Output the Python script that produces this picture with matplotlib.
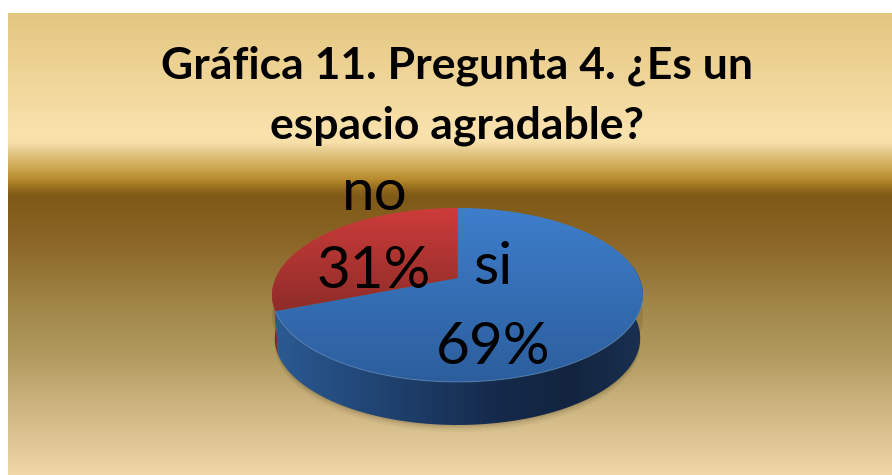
import numpy as np
import matplotlib
matplotlib.use('Agg')
from matplotlib import pyplot as plt
from matplotlib.patches import Polygon
from matplotlib.colors import LinearSegmentedColormap, to_rgb

title = 'Gráfica 11. Pregunta 4. ¿Es un\nespacio agradable?'
categories = ['si', 'no']
shares = [69, 31]

plt.rcParams['font.family'] = ['Lato', 'DejaVu Sans']

# pie geometry in pixels of the picture
apex_x, apex_y = 457.5, 278
scale_x, scale_y, persp = 181.9, 83.7, 0.195
depth = 43

# background bands, top to bottom
bg_rows = [13, 135, 142, 150, 165, 180, 190, 197, 240, 300, 355, 415, 475]
bg_cols = ['#e3c680', '#fae2ad', '#f8e0aa', '#e6cc8f', '#d2ae5a', '#b5892a',
           '#8e651c', '#7f5917', '#8a6526', '#9f8445', '#b19a5e', '#d0b985', '#efd8a6']


def project(theta):
    # flat circle to the tilted ellipse
    t = np.radians(theta)
    u = np.cos(t)
    v = np.sin(t)
    d = 1 + persp * v
    return apex_x + scale_x * u / d, apex_y - scale_y * v / d


def slice_points(t1, t2):
    th = np.linspace(t1, t2, 200)
    x, y = project(th)
    return np.vstack([[apex_x, apex_y], np.column_stack([x, y])])


def wall_points(t1, t2):
    th = np.linspace(t1, t2, 200)
    x, y = project(th)
    xb = apex_x + (x - apex_x) * 0.985
    yb = y + depth
    return np.vstack([np.column_stack([x, y]), np.column_stack([xb, yb])[::-1]])


def shaded(ax, pts, cols, horizontal=False):
    # gradient image clipped to a polygon
    poly = Polygon(pts, closed=True, transform=ax.transData, facecolor='none', edgecolor='none')
    ax.add_patch(poly)
    cmap = LinearSegmentedColormap.from_list('c', cols)
    g = np.linspace(0, 1, 256)
    g = g.reshape(1, -1) if horizontal else g.reshape(-1, 1)
    x0, y0 = pts.min(axis=0)
    x1, y1 = pts.max(axis=0)
    im = ax.imshow(g, cmap=cmap, extent=(x0, x1, y1, y0), aspect='auto', interpolation='bilinear', zorder=3)
    im.set_clip_path(poly)


fig = plt.figure(figsize=(8.92, 4.75), dpi=100)
ax = fig.add_axes([0, 0, 1, 1])

# background
rows = np.arange(13, 476)
rgb = np.array([to_rgb(c) for c in bg_cols])
grad = np.stack([np.interp(rows, bg_rows, rgb[:, i]) for i in range(3)], axis=1)
ax.imshow(grad[:, None, :], extent=(8, 892, 475, 13), aspect='auto', interpolation='bilinear')

# soft shadow under the pie
for grow, alpha in [(7, 0.04), (5, 0.05), (3, 0.07), (1.5, 0.09)]:
    th = np.linspace(0, 360, 300)
    x, y = project(th)
    ax.fill(apex_x + (x - apex_x) * 0.985, y + depth + grow, color='#3a2a10', alpha=alpha, lw=0, zorder=2)
    ax.fill(x, y + depth * 0.5, color='#3a2a10', alpha=alpha * 0.5, lw=0, zorder=2)

# slice angles, clockwise from the top
ends = 90 - np.cumsum(shares) * 3.6
starts = np.r_[90, ends[:-1]]
si_t1, si_t2 = ends[0], starts[0]
no_t1, no_t2 = ends[1], starts[1]

# walls
shaded(ax, wall_points(si_t1 + 360 - 16, si_t1 + 360), ['#a8322e', '#7a2522'])
shaded(ax, wall_points(si_t1 + 360, 368), ['#2b5a92', '#234a7c', '#1c3a64', '#152a4c', '#12243f', '#1a3050'], True)

# top faces
shaded(ax, slice_points(si_t1, si_t2), ['#3e7ecb', '#2c5e9d'])
shaded(ax, slice_points(no_t1, no_t2), ['#cd3c3a', '#8e2c29'])

# light rim on the front edge
th = np.linspace(si_t1 + 360, 345, 200)
x, y = project(th)
ax.plot(x, y, color='#6f9fd8', lw=0.8, alpha=0.45, zorder=4)

# labels
lab_pos = {'si': ((493, 268), (493, 348)), 'no': ((375, 193), (374, 272))}
for name, val in zip(categories, shares):
    p1, p2 = lab_pos[name]
    ax.text(p1[0], p1[1], name, fontsize=42, color='black', ha='center', va='center', zorder=5)
    ax.text(p2[0], p2[1], '{}%'.format(val), fontsize=42, color='black', ha='center', va='center', zorder=5)

ax.text(457, 96, title, fontsize=32, fontweight='bold', color='black', ha='center', va='center',
        linespacing=1.6, zorder=5)

ax.set_xlim(0, 892)
ax.set_ylim(475, 0)
ax.axis('off')
fig.savefig('out.png', dpi=100, facecolor='white')
